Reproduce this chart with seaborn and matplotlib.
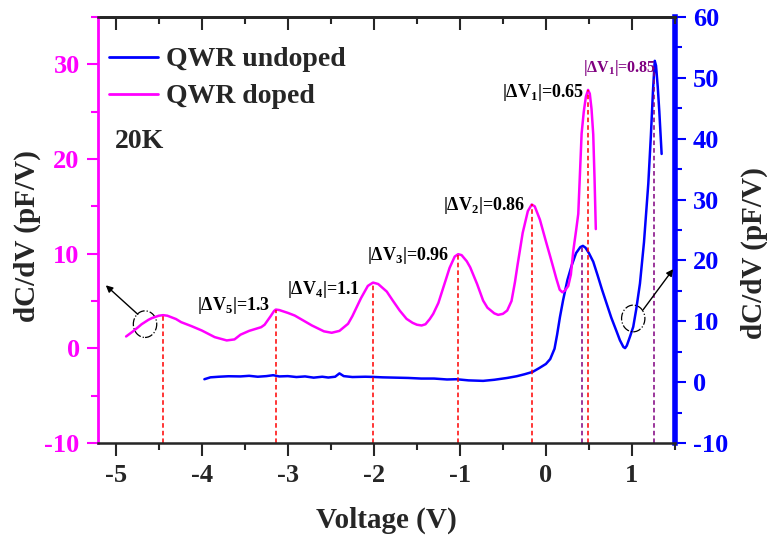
import numpy as np
import pandas as pd
import seaborn as sns
import matplotlib.pyplot as plt
from matplotlib.patches import Ellipse
from matplotlib.ticker import MultipleLocator
from matplotlib.lines import Line2D

# doped QWR, left axis (pF/V)
doped_v = [-4.88, -4.80, -4.74, -4.70, -4.62, -4.58, -4.50, -4.45, -4.40, -4.30,
           -4.24, -4.12, -4.00, -3.85, -3.71, -3.62, -3.55, -3.45, -3.31, -3.27,
           -3.20, -3.16, -3.14, -3.10, -3.00, -2.92, -2.72, -2.58, -2.49, -2.40,
           -2.30, -2.25, -2.15, -2.07, -2.01, -1.95, -1.85, -1.78, -1.70, -1.62,
           -1.55, -1.50, -1.445, -1.40, -1.35, -1.31, -1.25, -1.155, -1.12, -1.06,
           -1.02, -0.98, -0.92, -0.88, -0.80, -0.73, -0.68, -0.60, -0.555, -0.50,
           -0.45, -0.40, -0.36, -0.33, -0.27, -0.21, -0.165, -0.13, -0.07, 0.00,
           0.05, 0.085, 0.12, 0.16, 0.19, 0.22, 0.26, 0.29, 0.318, 0.35,
           0.376, 0.415, 0.44, 0.465, 0.49, 0.51, 0.53, 0.55, 0.565, 0.58]
doped_c = [1.26, 1.8, 2.24, 2.55, 3.02, 3.2, 3.45, 3.51, 3.45, 3.1,
           2.77, 2.35, 1.89, 1.19, 0.84, 0.95, 1.45, 1.85, 2.24, 2.5,
           3.4, 3.95, 4.1, 4.05, 3.75, 3.47, 2.42, 1.8, 1.65, 1.85,
           2.6, 3.4, 5.3, 6.6, 6.95, 6.8, 6.0, 5.05, 4.0, 3.12,
           2.7, 2.5, 2.42, 2.55, 3.1, 3.65, 4.8, 7.5, 8.5, 9.7,
           9.95, 9.85, 9.2, 8.56, 6.8, 5.05, 4.3, 3.7, 3.54, 3.65,
           4.0, 5.0, 7.0, 8.8, 12.2, 14.5, 15.2, 15.0, 13.6, 11.3,
           9.7, 8.56, 7.4, 6.2, 5.93, 6.1, 6.6, 7.8, 10.3, 12.4,
           14.2, 22.7, 25.0, 26.6, 27.3, 26.9, 25.3, 22.6, 18.0, 12.6]

# undoped QWR, right axis (pF/V)
undoped_v = [-3.97, -3.90, -3.80, -3.69, -3.55, -3.45, -3.35, -3.25, -3.17, -3.10,
             -3.00, -2.90, -2.80, -2.70, -2.60, -2.53, -2.45, -2.40, -2.35, -2.25,
             -2.10, -2.01, -1.90, -1.75, -1.60, -1.45, -1.30, -1.15, -1.04, -0.90,
             -0.73, -0.60, -0.45, -0.34, -0.25, -0.155, -0.08, 0.00, 0.05, 0.10,
             0.13, 0.163, 0.20, 0.25, 0.30, 0.35, 0.40, 0.43, 0.46, 0.50,
             0.55, 0.60, 0.65, 0.706, 0.76, 0.82, 0.86, 0.90, 0.92, 0.94,
             0.98, 1.015, 1.05, 1.093, 1.14, 1.19, 1.22, 1.245, 1.265, 1.28,
             1.30, 1.318, 1.345]
undoped_c = [0.49, 0.8, 0.9, 0.98, 0.95, 1.05, 0.9, 1.0, 1.15, 0.95,
             1.0, 0.85, 0.95, 0.75, 0.9, 0.77, 0.9, 1.45, 1.0, 0.85,
             0.9, 0.87, 0.8, 0.75, 0.7, 0.6, 0.6, 0.45, 0.49, 0.3,
             0.22, 0.4, 0.7, 0.98, 1.3, 1.69, 2.3, 3.0, 3.8, 5.5,
             7.8, 10.7, 13.5, 16.8, 19.2, 21.2, 22.2, 22.4, 22.1, 21.2,
             19.8, 17.6, 15.3, 12.9, 10.6, 8.4, 6.9, 5.8, 5.6, 6.0,
             7.6, 9.1, 12.0, 16.2, 23.0, 32.6, 40.5, 48.0, 52.8, 52.0,
             48.5, 44.5, 37.5]

# peak positions and spacing labels
doped_peaks = [-4.45, -3.14, -2.01, -1.02, -0.165, 0.49]
doped_labels = [r'|ΔV$_{\mathbf{5}}$|=1.3', r'|ΔV$_{\mathbf{4}}$|=1.1',
                r'|ΔV$_{\mathbf{3}}$|=0.96', r'|ΔV$_{\mathbf{2}}$|=0.86',
                r'|ΔV$_{\mathbf{1}}$|=0.65']
label_pos = [(-4.06, 4.56), (-3.01, 6.25), (-2.08, 9.79), (-1.20, 15.07), (-0.51, 26.99)]
undoped_peaks = [0.42, 1.26]
undoped_label = r'|ΔV$_{\mathbf{1}}$|=0.85'

sns.set_style('ticks')
plt.rcParams['font.family'] = ['Liberation Serif', 'DejaVu Serif']
plt.rcParams['font.weight'] = 'bold'
plt.rcParams['axes.unicode_minus'] = False
plt.rcParams['mathtext.fontset'] = 'custom'
plt.rcParams['mathtext.bf'] = 'Liberation Serif:bold'
plt.rcParams['mathtext.rm'] = 'Liberation Serif:bold'

mag = '#ff00ff'
blu = '#0000ff'
pur = '#800080'

fig, ax = plt.subplots(figsize=(7.67, 5.41), dpi=100)
fig.subplots_adjust(left=0.1274, right=0.880, bottom=0.181, top=0.9686)
ax2 = ax.twinx()

df_d = pd.DataFrame({'v': doped_v, 'c': doped_c})
df_u = pd.DataFrame({'v': undoped_v, 'c': undoped_c})
sns.lineplot(data=df_d, x='v', y='c', ax=ax, color=mag, lw=1.8, estimator=None)
sns.lineplot(data=df_u, x='v', y='c', ax=ax2, color=blu, lw=1.8, estimator=None)

ax.set_xlim(-5.21, 1.5)
ax.set_ylim(-10, 35)
ax2.set_ylim(-10, 60)

# dashed guide lines from peaks down to the axis
for p in doped_peaks:
    ax.vlines(p, -10, np.interp(p, doped_v, doped_c), colors='red', lw=1.1,
              linestyles=(0, (3, 2)))
for p in undoped_peaks:
    ax2.vlines(p, -10, np.interp(p, undoped_v, undoped_c), colors=pur, lw=1.1,
               linestyles=(0, (3, 2)))

for txt, (x, y) in zip(doped_labels, label_pos):
    ax.text(x, y, txt, fontsize=13, fontweight='bold', ha='left', va='center', color='black')
ax.text(0.43, 29.63, undoped_label, fontsize=11.5, fontweight='bold', ha='left',
        va='center', color=pur)
ax.text(-5.01, 21.87, '20K', fontsize=20, fontweight='bold', ha='left', va='center')

# circled regions with arrows to their axes
ax.add_patch(Ellipse((-4.66, 2.56), 0.272, 2.81, fill=False, ls='-.', lw=0.9, ec='black'))
ax.add_patch(Ellipse((1.015, 3.16), 0.271, 2.82, fill=False, ls='-.', lw=0.9, ec='black'))
ax.annotate('', xy=(-5.14, 6.86), xytext=(-4.72, 3.40),
            arrowprops=dict(arrowstyle='-|>', color='black', lw=1), annotation_clip=False)
ax.annotate('', xy=(1.499, 8.61), xytext=(1.112, 3.86),
            arrowprops=dict(arrowstyle='-|>', color='black', lw=1), annotation_clip=False)

# axes styling
ax.set_xlabel('Voltage (V)', fontsize=21, fontweight='bold', labelpad=14)
ax.set_ylabel('dC/dV (pF/V)', fontsize=21, fontweight='bold')
ax2.set_ylabel('dC/dV (pF/V)', fontsize=21, fontweight='bold')
ax.yaxis.set_label_coords(-0.098, 0.486)
ax2.yaxis.set_label_coords(1.114, 0.446)

ax.xaxis.set_major_locator(MultipleLocator(1))
ax.xaxis.set_minor_locator(MultipleLocator(0.5))
ax.yaxis.set_major_locator(MultipleLocator(10))
ax.yaxis.set_minor_locator(MultipleLocator(5))
ax2.yaxis.set_major_locator(MultipleLocator(10))
ax2.yaxis.set_minor_locator(MultipleLocator(5))

ax.tick_params(axis='x', which='major', direction='out', length=9, width=1.5,
               labelsize=19, pad=6, top=False)
ax.tick_params(axis='x', which='minor', direction='out', length=5, width=1.5, top=False)
ax.tick_params(axis='y', which='major', direction='out', length=8, width=1.5,
               colors=mag, labelsize=19, pad=5)
ax.tick_params(axis='y', which='minor', direction='out', length=5, width=1.5, colors=mag)
ax2.tick_params(axis='y', which='major', direction='out', length=8, width=1.5,
                colors=blu, labelsize=19, pad=5)
ax2.tick_params(axis='y', which='minor', direction='out', length=5, width=1.5, colors=blu)
for lab in ax.get_xticklabels() + ax.get_yticklabels() + ax2.get_yticklabels():
    lab.set_fontweight('bold')

top = ax.secondary_xaxis('top')
top.xaxis.set_major_locator(MultipleLocator(1))
top.xaxis.set_minor_locator(MultipleLocator(0.5))
top.tick_params(which='major', direction='in', length=9, width=1.5, labeltop=False)
top.tick_params(which='minor', direction='in', length=5, width=1.5)
top.spines['top'].set_linewidth(1.8)

ax.spines['left'].set_color(mag)
ax.spines['left'].set_linewidth(2)
ax.spines['bottom'].set_linewidth(1.8)
ax.spines['top'].set_linewidth(1.8)
ax.spines['right'].set_visible(False)
ax2.spines['left'].set_visible(False)
ax2.spines['right'].set_color(blu)
ax2.spines['right'].set_linewidth(4)
ax2.spines['top'].set_linewidth(1.8)

handles = [Line2D([], [], color=blu, lw=2), Line2D([], [], color=mag, lw=2)]
ax.legend(handles, ['QWR undoped', 'QWR doped'], loc='upper left',
          bbox_to_anchor=(0.0196, 0.93), frameon=False,
          handlelength=1.75, handletextpad=0.3, labelspacing=0.42,
          borderaxespad=0, borderpad=0, prop={'weight': 'bold', 'size': 20})

ax.set_zorder(ax2.get_zorder() + 1)
ax.patch.set_visible(False)

fig.savefig('out.png', dpi=100)
